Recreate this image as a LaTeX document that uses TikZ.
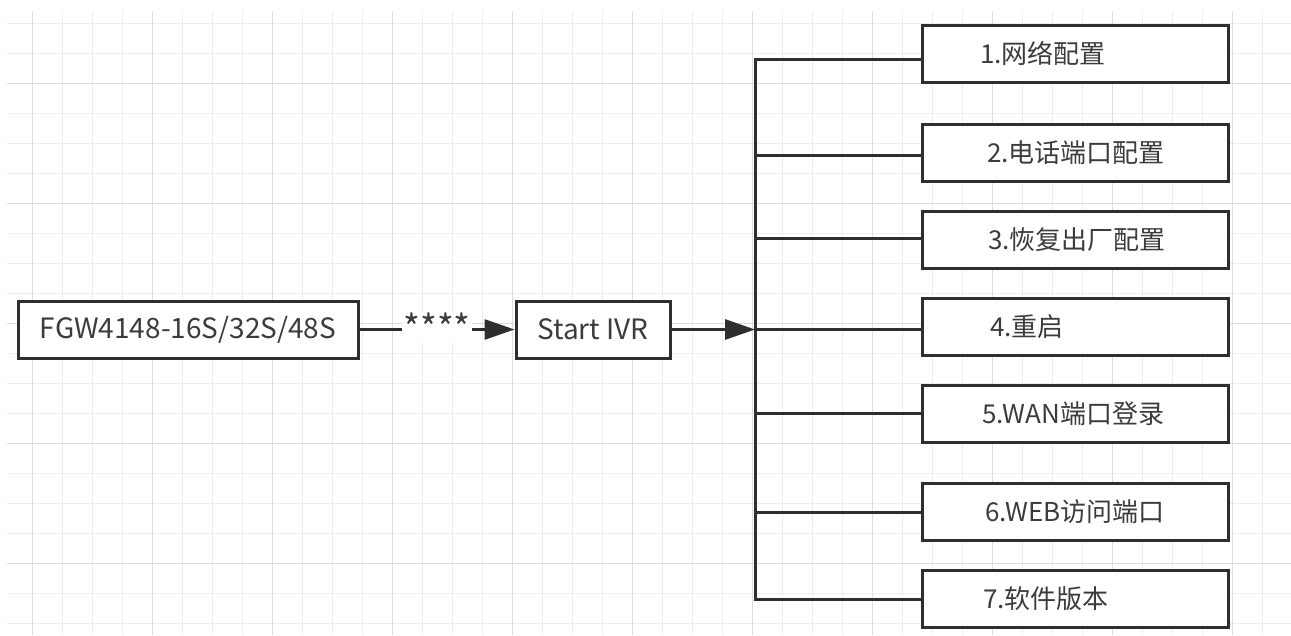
\documentclass[tikz,border=0pt]{standalone}
\usepackage{fontspec}
\setmainfont{Noto Sans CJK SC}
\usetikzlibrary{arrows.meta}
\definecolor{ink}{HTML}{2E2E2E}
\definecolor{txt}{HTML}{3C3C3C}
\definecolor{gminor}{HTML}{EDEDED}
\definecolor{gmajor}{HTML}{DDDDDD}
\begin{document}
\begin{tikzpicture}[x=1pt,y=-1pt,
  lbl/.style={text=txt, font=\fontsize{26}{30}\selectfont},
  box/.style={lbl, draw=ink, line width=3pt, fill=white, minimum height=57pt, inner sep=0pt},
  item/.style={box, text width=306pt, align=left, minimum width=306pt},
  conn/.style={draw=ink, line width=3pt},
  arr/.style={conn, -{Triangle[length=30pt,width=20pt]}}
]
\useasboundingbox (0,0) rectangle (1291,635);
\fill[white] (0,0) rectangle (1291,635);
\foreach \x in {32,62,...,1291} \draw[gminor, line width=1pt] (\x,11) -- (\x,635);
\foreach \y in {23,53,...,635} \draw[gminor, line width=1pt] (7,\y) -- (1291,\y);
\foreach \x in {32,152,...,1291} \draw[gmajor, line width=1pt] (\x,11) -- (\x,635);
\foreach \y in {83,203,...,635} \draw[gmajor, line width=1pt] (7,\y) -- (1291,\y);

\node[box, minimum width=340pt, font=\fontsize{28}{32}\selectfont] (fgw) at (188,329.5) {FGW4148-16S/32S/48S};
\node[box, minimum width=154pt, font=\fontsize{28}{32}\selectfont] (ivr) at (593,329.5) {Start IVR};

\node[item] (b1) at (1075,53.5) {\hspace*{58pt}1.网络配置};
\node[item] (b2) at (1075,152.5) {\hspace*{65pt}2.电话端口配置};
\node[item] (b3) at (1075,239.5) {\hspace*{66pt}3.恢复出厂配置};
\node[item] (b4) at (1075,326.5) {\hspace*{68pt}4.重启};
\node[item] (b5) at (1075,414) {\hspace*{60pt}5.WAN端口登录};
\node[item] (b6) at (1075,512) {\hspace*{63pt}6.WEB访问端口};
\node[item] (b7) at (1075,599) {\hspace*{61pt}7.软件版本};

\coordinate (j1) at (755,59);
\coordinate (j2) at (755,155);
\coordinate (j3) at (755,238);
\coordinate (j4) at (755,329.5);
\coordinate (j5) at (755,413);
\coordinate (j6) at (755,512);
\coordinate (j7) at (755,599);

\draw[arr] (fgw) -- node[lbl, fill=white, inner sep=1pt, font=\fontsize{36}{38}\selectfont, yshift=2pt] (stars) {****} (ivr);
\draw[arr] (ivr) -- (j4);

\draw[conn] (j1 -| b1.west) -- (j1) -- (j7) -- (j7 -| b7.west);
\draw[conn] (j2) -- (j2 -| b2.west);
\draw[conn] (j3) -- (j3 -| b3.west);
\draw[conn] (j4) -- (j4 -| b4.west);
\draw[conn] (j5) -- (j5 -| b5.west);
\draw[conn] (j6) -- (j6 -| b6.west);
\end{tikzpicture}
\end{document}
